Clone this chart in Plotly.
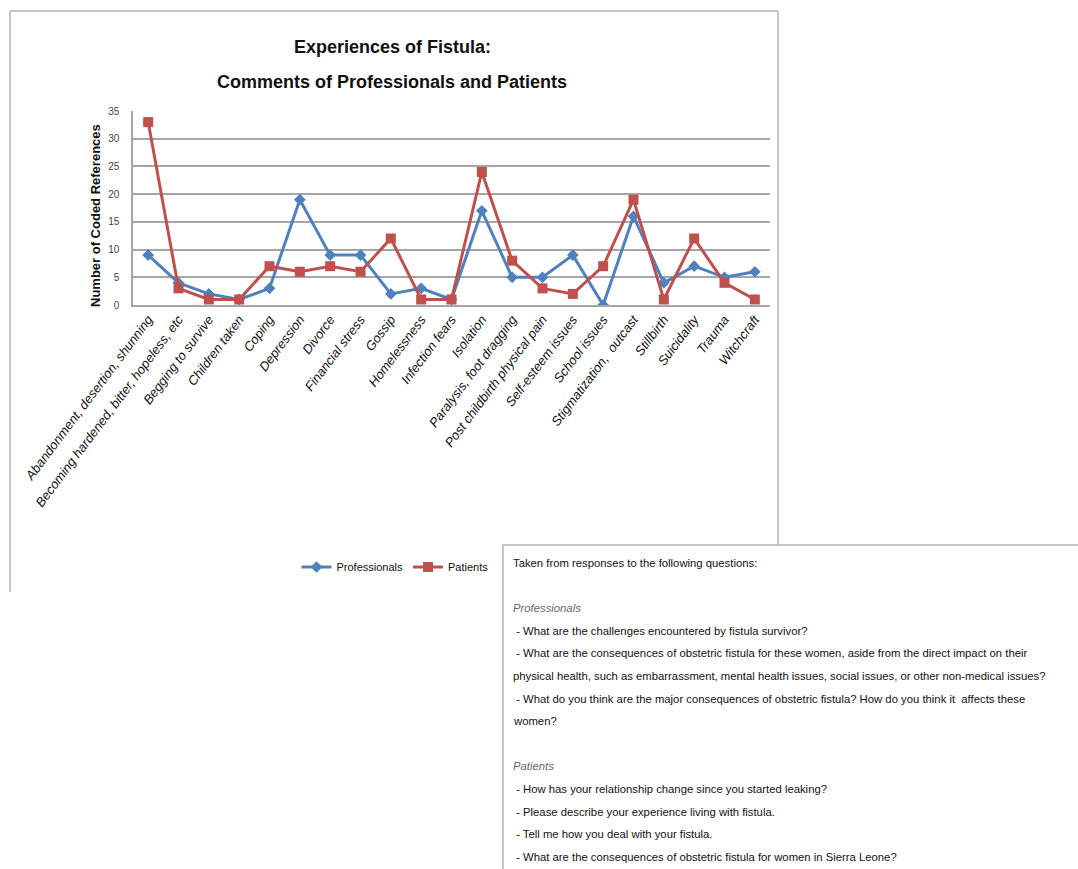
import plotly.graph_objects as go

# Coded themes and reference counts
categories = [
    "Abandonment, desertion, shunning",
    "Becoming hardened, bitter, hopeless, etc",
    "Begging to survive",
    "Children taken",
    "Coping",
    "Depression",
    "Divorce",
    "Financial stress",
    "Gossip",
    "Homelessness",
    "Infection fears",
    "Isolation",
    "Paralysis, foot dragging",
    "Post childbirth physical pain",
    "Self-esteem issues",
    "School issues",
    "Stigmatization,  outcast",
    "Stillbirth",
    "Suicidality",
    "Trauma",
    "Witchcraft",
]
professionals = [9, 4, 2, 1, 3, 19, 9, 9, 2, 3, 1, 17, 5, 5, 9, 0, 16, 4, 7, 5, 6]
patients = [33, 3, 1, 1, 7, 6, 7, 6, 12, 1, 1, 24, 8, 3, 2, 7, 19, 1, 12, 4, 1]
y_ticks = [0, 5, 10, 15, 20, 25, 30, 35]

title_lines = ["Experiences of Fistula:", "Comments of Professionals and Patients"]
y_title = "Number of Coded References"
note_lines = [
    ("Taken from responses to the following questions:", False),
    ("", False),
    ("Professionals", True),
    (" - What are the challenges encountered by fistula survivor?", False),
    (" - What are the consequences of obstetric fistula for these women, aside from the direct impact on their", False),
    ("physical health, such as embarrassment, mental health issues, social issues, or other non-medical issues?", False),
    (" - What do you think are the major consequences of obstetric fistula? How do you think it  affects these", False),
    ("women?", False),
    ("", False),
    ("Patients", True),
    (" - How has your relationship change since you started leaking?", False),
    (" - Please describe your experience living with fistula.", False),
    (" - Tell me how you deal with your fistula.", False),
    (" - What are the consequences of obstetric fistula for women in Sierra Leone?", False),
]

W, H = 1078, 869
PL, PR, PT, PB = 133, 770, 111, 305  # plot area in pixels
BLUE = "#4F81BD"
RED = "#C0504D"
GRID = "#A6A6A6"
FRAME = "#B4B4B4"
FONT = "Liberation Sans, Arial, sans-serif"


def px_x(x):
    return (x - PL) / (PR - PL)


def px_y(y):
    return (PB - y) / (PB - PT)


fig = go.Figure()
fig.add_trace(go.Scatter(
    x=categories, y=professionals, name="Professionals", mode="lines+markers",
    line=dict(color=BLUE, width=3),
    marker=dict(symbol="diamond", size=9, color=BLUE),
))
fig.add_trace(go.Scatter(
    x=categories, y=patients, name="Patients", mode="lines+markers",
    line=dict(color=RED, width=3),
    marker=dict(symbol="square", size=10, color=RED),
))

shapes = []
# chart frame (partly covered by the note box)
for x0, y0, x1, y1 in [(10, 11, 778, 11), (10, 11, 10, 592), (778, 11, 778, 545)]:
    shapes.append(dict(type="line", xref="paper", yref="paper",
                       x0=px_x(x0), y0=px_y(y0), x1=px_x(x1), y1=px_y(y1),
                       line=dict(color=FRAME, width=1.5), layer="below"))
# note box
shapes.append(dict(type="rect", xref="paper", yref="paper",
                   x0=px_x(503), y0=px_y(545), x1=px_x(1090), y1=px_y(880),
                   line=dict(color=FRAME, width=1.5), fillcolor="white", layer="above"))

annotations = []
for line, yy in zip(title_lines, [47, 82]):
    annotations.append(dict(text="<b>" + line + "</b>", xref="paper", yref="paper",
                            x=px_x(392), y=px_y(yy), showarrow=False,
                            xanchor="center", yanchor="middle",
                            font=dict(family=FONT, size=18, color="#111111")))
annotations.append(dict(text="<b>" + y_title + "</b>", xref="paper", yref="paper",
                        x=px_x(95), y=px_y(216), showarrow=False, textangle=-90,
                        xanchor="center", yanchor="middle",
                        font=dict(family=FONT, size=13, color="#111111")))
y0 = 563
for i, (line, ital) in enumerate(note_lines):
    if not line:
        continue
    txt = "<i>" + line + "</i>" if ital else line
    annotations.append(dict(text=txt, xref="paper", yref="paper",
                            x=px_x(511), y=px_y(y0 + i * 22.6), showarrow=False,
                            xanchor="left", yanchor="middle",
                            font=dict(family=FONT, size=11.3,
                                      color="#666666" if ital else "#111111")))

fig.update_layout(
    width=W, height=H, autosize=False,
    margin=dict(l=PL, r=W - PR, t=PT, b=H - PB, pad=0),
    paper_bgcolor="white", plot_bgcolor="white",
    font=dict(family=FONT, color="#111111"),
    showlegend=True,
    legend=dict(orientation="h", x=395 / W, y=1 - 567 / H,
                xref="container", yref="container",
                xanchor="center", yanchor="middle",
                font=dict(family=FONT, size=11, color="#111111"),
                itemwidth=30, bgcolor="rgba(0,0,0,0)"),
    shapes=shapes,
    annotations=annotations,
    xaxis=dict(
        type="category", showgrid=False, showline=True, linecolor=GRID, linewidth=1.5,
        ticks="", tickangle=-53,
        tickfont=dict(family=FONT, size=13, color="#111111", style="italic"),
        range=[-0.5, len(categories) - 0.5], fixedrange=True,
    ),
    yaxis=dict(
        range=[0, 35], tickvals=y_ticks, showgrid=True, gridcolor=GRID, gridwidth=2,
        showline=True, linecolor=GRID, linewidth=1.5, zeroline=False,
        ticks="", ticklabelstandoff=10,
        tickfont=dict(family=FONT, size=10, color="#444444"),
    ),
)

fig.write_html("out.html")
